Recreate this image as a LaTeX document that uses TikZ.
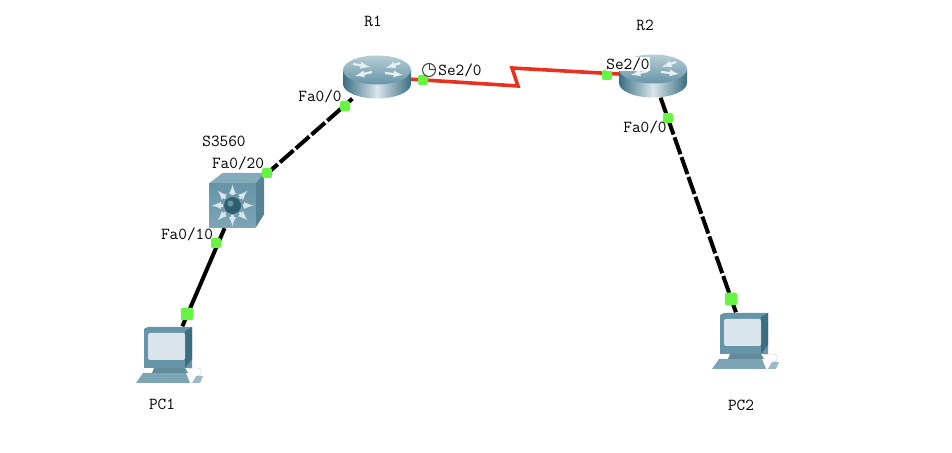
\documentclass[tikz,border=0pt]{standalone}
\usepackage{amsmath}
\usetikzlibrary{arrows,shapes,backgrounds,positioning,calc}

\definecolor{portgreen}{HTML}{66F542}
\definecolor{serialred}{HTML}{E8321F}
\definecolor{ciscodark}{HTML}{3A6E82}
\definecolor{ciscomid}{HTML}{6695A8}
\definecolor{ciscolight}{HTML}{D9E5EA}

\tikzset{
    pics/routerpic/.style={code={
        \path [left color=ciscodark, right color=ciscodark, middle color=ciscolight]
            (-34,7) -- (-34,-7) arc [start angle=180, end angle=360, x radius=34, y radius=14.5]
            -- (34,7) -- cycle;
        \path [top color=ciscolight!70!ciscomid, bottom color=ciscomid]
            (0,7) ellipse [x radius=34, y radius=14.5];
        \draw [white!85!ciscomid, line width=2.2, ->, >=latex] (-24,13) -- (-7,10);
        \draw [white!85!ciscomid, line width=2.2, ->, >=latex] (23,14) -- (9,9);
        \draw [white!85!ciscomid, line width=2.2, ->, >=latex] (-5,5) -- (-22,1);
        \draw [white!85!ciscomid, line width=2.2, ->, >=latex] (8,4) -- (26,2);
    }},
    pics/switchpic/.style={code={
        \fill [ciscomid!80!white] (-27.5,17) -- (-14,27.5) -- (27.5,27.5) -- (19,17) -- cycle;
        \fill [ciscodark!85!white] (19,17) -- (27.5,27.5) -- (27.5,-14) -- (19,-27.5) -- cycle;
        \path [top color=ciscomid, bottom color=ciscomid!85!white] (-27.5,-27.5) rectangle (19,17);
        \foreach \a in {0,45,...,315}
            \draw [ciscolight, line width=2.2, ->, >=latex] ($(-4,-5)+(\a:10)$) -- ($(-4,-5)+(\a:21)$);
        \fill [ciscodark!85!black] (-4,-5) circle (8.5);
        \fill [ciscomid] (-6,-3) circle (3);
    }},
    pics/pcpic/.style={code={
        \fill [ciscomid!85!white] (-34,-28) -- (-27,-18) -- (16,-18) -- (20,-28) -- cycle;
        \fill [ciscodark!80!white] (-18,-18) -- (-14,-8) -- (12,-8) -- (18,-18) -- cycle;
        \fill [ciscomid] (-14,-13) rectangle (14,-10);
        \fill [ciscomid] (-26,26) -- (-22,28) -- (22,28) -- (22,-13) -- (-26,-13) -- cycle;
        \fill [ciscodark] (15,-13) -- (22,-4) -- (22,28) -- (15,24) -- cycle;
        \fill [ciscolight, rounded corners=2] (-22,22) rectangle (15,-5);
        \draw [ciscolight!80!ciscomid] (18,-14) .. controls (34,-10) and (34,-18) .. (28,-21);
        \fill [ciscomid!65!white] (22,-28) -- (26,-21) -- (33,-21) -- (30,-28) -- cycle;
    }}
}

\begin{document}
\begin{tikzpicture}[x=1pt, y=1pt, auto, node distance=20pt, >=latex', font=\fontsize{16.8}{17}\ttfamily]

    \tikzstyle{routerbox} = [rectangle, minimum width=68pt, minimum height=43pt, inner sep=0pt]
    \tikzstyle{switchbox} = [rectangle, minimum width=55pt, minimum height=55pt, inner sep=0pt]
    \tikzstyle{pcbox} = [rectangle, minimum width=68pt, minimum height=57pt, inner sep=0pt]
    \tikzstyle{port} = [rectangle, fill=portgreen, rounded corners=2pt, minimum size=10pt, inner sep=0pt]
    \tikzstyle{bigport} = [port, minimum size=12.5pt]
    \tikzstyle{label} = [inner sep=0pt]
    \tikzstyle{ethernet} = [black, line width=4pt, dash pattern=on 18pt off 3pt]
    \tikzstyle{serial} = [serialred, line width=3.6pt]

    \useasboundingbox [fill=white] (0,0) rectangle (952,452);

    \node [routerbox] (R1) at (377,375) {};
    \node [routerbox] (R2) at (653,376) {};
    \node [switchbox] (S3560) at (236.5,251.5) {};
    \node [pcbox] (PC1) at (170,97) {};
    \node [pcbox] (PC2) at (746,111) {};

    \coordinate (zig1) at (518,366);
    \coordinate (zig2) at (512,384);

    \draw [ethernet] (S3560) -- (R1);
    \draw [black, line width=4pt] (S3560) -- (PC1);
    \draw [ethernet] (R2) -- (PC2);
    \draw [serial] (R1) -- (zig1) -- (zig2) -- (R2);

    \pic at (R1) {routerpic};
    \pic at (R2) {routerpic};
    \pic at (S3560) {switchpic};
    \pic at (PC1) {pcpic};
    \pic at (PC2) {pcpic};

    \node [port] (r1fa) at (345,346) {};
    \node [port] (r1se) at (423,372) {};
    \node [port] (r2se) at (607,377) {};
    \node [port] (r2fa) at (668,334) {};
    \node [port] (swup) at (267,279) {};
    \node [port] (swdn) at (216,209) {};
    \node [bigport] (pc1fa) at (187,138) {};
    \node [bigport] (pc2fa) at (731,153) {};

    \node [label, above of=R1, node distance=56pt, xshift=-4pt] (r1name) {R1};
    \node [label, above of=R2, node distance=51pt, xshift=-8pt] (r2name) {R2};
    \node [label, above of=S3560, node distance=59.5pt, xshift=-12.5pt] (swname) {S3560};
    \node [label, below of=PC1, node distance=49pt, xshift=-8pt] (pc1name) {PC1};
    \node [label, below of=PC2, node distance=64pt, xshift=-5pt] (pc2name) {PC2};

    \node [label, left of=r1fa, node distance=25pt, yshift=10pt] (r1falabel) {Fa0/0};
    \node [label, left of=swup, node distance=29pt, yshift=10pt] (swuplabel) {Fa0/20};
    \node [label, left of=swdn, node distance=29pt, yshift=9pt] (swdnlabel) {Fa0/10};
    \node [label, left of=r2fa, node distance=23pt, yshift=-9pt] (r2falabel) {Fa0/0};
    \node [label, right of=r2se, node distance=21pt, yshift=11pt, fill=white] (r2selabel) {Se2/0};

    \node [draw=black!75, circle, line width=1pt, minimum size=13pt, inner sep=0pt, above of=r1se, node distance=10pt, xshift=6pt] (clock) {};
    \draw [black!75, line width=1pt] (clock.north) -- (clock.center) -- (clock.east);
    \node [label, right of=clock, node distance=31pt] (r1selabel) {Se2/0};

\end{tikzpicture}
\end{document}
